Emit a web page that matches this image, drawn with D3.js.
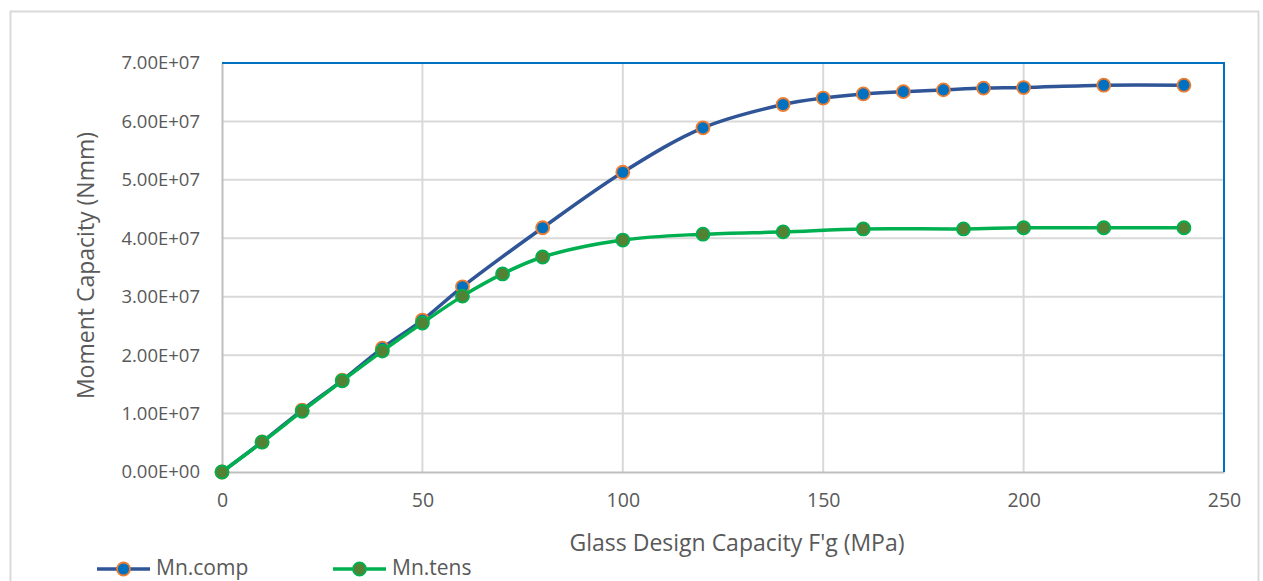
<!DOCTYPE html>
<html>
<head>
<meta charset="utf-8">
<script src="https://cdn.jsdelivr.net/npm/d3@7"></script>
<style>
  body { margin: 0; background: #fff; }
  text { font-family: "Open Sans", sans-serif; fill: #595959; }
</style>
</head>
<body>
<div id="chart"></div>
<script>
// Data
var compX = [0, 10, 20, 30, 40, 50, 60, 80, 100, 120, 140, 150, 160, 170, 180, 190, 200, 220, 240];
var compY = [0, 5.15e6, 1.06e7, 1.57e7, 2.12e7, 2.6e7, 3.17e7, 4.18e7, 5.13e7, 5.89e7, 6.29e7, 6.4e7, 6.47e7, 6.51e7, 6.54e7, 6.57e7, 6.58e7, 6.62e7, 6.62e7];
var tensX = [0, 10, 20, 30, 40, 50, 60, 70, 80, 100, 120, 140, 160, 185, 200, 220, 240];
var tensY = [0, 5.1e6, 1.04e7, 1.56e7, 2.07e7, 2.55e7, 3.01e7, 3.39e7, 3.68e7, 3.97e7, 4.07e7, 4.11e7, 4.16e7, 4.16e7, 4.18e7, 4.18e7, 4.18e7];
var xTicks = [0, 50, 100, 150, 200, 250];
var yTicks = [0, 1e7, 2e7, 3e7, 4e7, 5e7, 6e7, 7e7];
var seriesNames = ["Mn.comp", "Mn.tens"];

// Chart size and margins
var svgWidth = 1263;
var svgHeight = 581;
var margin = { top: 63, right: 39, bottom: 109, left: 222 };
var width = svgWidth - margin.left - margin.right;
var height = svgHeight - margin.top - margin.bottom;

var svg = d3.select("#chart")
  .append("svg")
  .attr("width", svgWidth)
  .attr("height", svgHeight);

// outer chart border
svg.append("rect")
  .attr("x", 10.5).attr("y", 11.5)
  .attr("width", 1248).attr("height", 600)
  .attr("fill", "#fff")
  .attr("stroke", "#d9d9d9")
  .attr("stroke-width", 2);

var chartGroup = svg.append("g")
  .attr("transform", `translate(${margin.left}, ${margin.top})`);

var xScale = d3.scaleLinear().domain([0, 250]).range([0, width]);
var yScale = d3.scaleLinear().domain([0, 7e7]).range([height, 0]);

// gridlines
chartGroup.append("g")
  .selectAll("line")
  .data(yTicks.slice(1))
  .enter()
  .append("line")
  .attr("x1", 0).attr("x2", width)
  .attr("y1", d => yScale(d)).attr("y2", d => yScale(d))
  .attr("stroke", "#d9d9d9")
  .attr("stroke-width", 2);

chartGroup.append("g")
  .selectAll("line")
  .data(xTicks.slice(1))
  .enter()
  .append("line")
  .attr("x1", d => xScale(d)).attr("x2", d => xScale(d))
  .attr("y1", 0).attr("y2", height)
  .attr("stroke", "#d9d9d9")
  .attr("stroke-width", 2);

// axes
var bottomAxis = d3.axisBottom(xScale).tickValues(xTicks).tickSize(0).tickPadding(21);
var leftAxis = d3.axisLeft(yScale).tickValues(yTicks).tickSize(0).tickPadding(22)
  .tickFormat(d => d3.format(".2e")(d).toUpperCase().replace(/E([+-])(\d)$/, "E$10$2"));

var xAxis = chartGroup.append("g")
  .attr("transform", `translate(0, ${height})`)
  .call(bottomAxis);
var yAxis = chartGroup.append("g").call(leftAxis);

[xAxis, yAxis].forEach(function(ax) {
  ax.select(".domain").attr("stroke", "#bfbfbf").attr("stroke-width", 2);
  ax.selectAll("text").attr("fill", "#595959")
    .style("font-family", "Open Sans, sans-serif");
});
xAxis.selectAll("text").attr("font-size", 19.5);
yAxis.selectAll("text").attr("font-size", 18.5);

// plot area border (top & right in blue)
chartGroup.append("path")
  .attr("d", `M0,0H${width}V${height}`)
  .attr("fill", "none")
  .attr("stroke", "#0070c0")
  .attr("stroke-width", 2);

// axis titles
chartGroup.append("text")
  .attr("x", width / 2 + 14)
  .attr("y", height + 79)
  .attr("text-anchor", "middle")
  .attr("font-size", 23)
  .text("Glass Design Capacity F'g (MPa)");

chartGroup.append("text")
  .attr("transform", `translate(${-134}, ${height / 2 - 2}) rotate(-90)`)
  .attr("text-anchor", "middle")
  .attr("dominant-baseline", "middle")
  .attr("font-size", 23)
  .text("Moment Capacity (Nmm)");

// series
var series = [
  { name: seriesNames[0], xs: compX, ys: compY, line: "#2f5597", fill: "#0070c0", edge: "#ed7d31" },
  { name: seriesNames[1], xs: tensX, ys: tensY, line: "#00b050", fill: "#548235", edge: "#00b050" }
];

var lineGen = d3.line()
  .x(d => xScale(d[0]))
  .y(d => yScale(d[1]))
  .curve(d3.curveCatmullRom.alpha(0.5));

series.forEach(function(s) {
  var pts = s.xs.map((x, i) => [x, s.ys[i]]);
  chartGroup.append("path")
    .datum(pts)
    .attr("d", lineGen)
    .attr("fill", "none")
    .attr("stroke", s.line)
    .attr("stroke-width", 3.5);
  chartGroup.selectAll(null)
    .data(pts)
    .enter()
    .append("circle")
    .attr("cx", d => xScale(d[0]))
    .attr("cy", d => yScale(d[1]))
    .attr("r", 6.5)
    .attr("fill", s.fill)
    .attr("stroke", s.edge)
    .attr("stroke-width", 1.8);
});

// legend
var legend = svg.append("g").attr("transform", "translate(97, 569)");
series.forEach(function(s, i) {
  var g = legend.append("g").attr("transform", `translate(${i * 236}, 0)`);
  g.append("line").attr("x1", 0).attr("x2", 53).attr("y1", 0).attr("y2", 0)
    .attr("stroke", s.line).attr("stroke-width", 3.5);
  g.append("circle").attr("cx", 26.5).attr("cy", 0).attr("r", 6.5)
    .attr("fill", s.fill).attr("stroke", s.edge).attr("stroke-width", 1.8);
  g.append("text").attr("x", 59).attr("y", 0)
    .attr("dominant-baseline", "middle")
    .attr("font-size", 21)
    .text(s.name);
});
</script>
</body>
</html>
